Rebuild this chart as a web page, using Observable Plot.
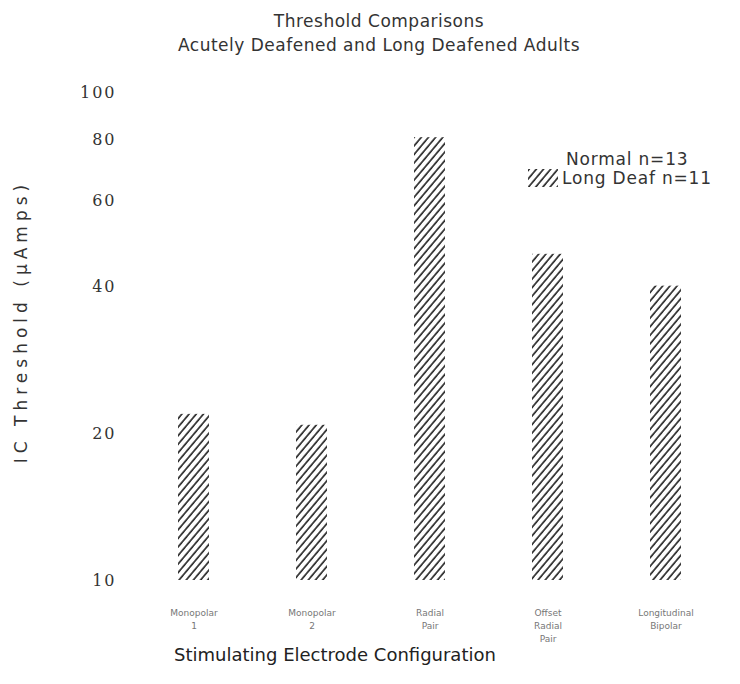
<!DOCTYPE html>
<html><head><meta charset="utf-8">
<script src="https://cdn.jsdelivr.net/npm/d3@7"></script>
<script src="https://cdn.jsdelivr.net/npm/@observablehq/plot@0.6"></script>
<style>
body{margin:0;background:#fff;font-family:"DejaVu Sans",sans-serif;}
#wrap{position:relative;width:740px;height:684px;overflow:hidden;}
#title{width:758px;height:56px;padding-top:9px;box-sizing:border-box;text-align:center;font-size:17px;line-height:24px;color:#333;letter-spacing:0.5px;}
#caption{position:absolute;left:0;top:635px;width:670px;text-align:center;font-size:18px;line-height:40px;color:#222;}
#legend{position:absolute;left:528px;top:149px;font-size:17px;color:#333;letter-spacing:0.8px;}
.row{display:flex;align-items:center;height:19px;}
.row svg{margin-right:4px;}
</style>
</head><body>
<div id="wrap">
  <div id="title">Threshold Comparisons<br>Acutely Deafened and Long Deafened Adults</div>
  <div id="chart"></div>
  <div id="caption">Stimulating Electrode Configuration</div>
  <div id="legend"></div>
</div>
<script>
const categories = ["Monopolar\n1", "Monopolar\n2", "Radial\nPair", "Offset\nRadial\nPair", "Longitudinal\nBipolar"];
const longDeaf = [21.9, 20.8, 80.8, 46.6, 40.1];
const seriesNames = ["Normal n=13", "Long Deaf n=11"];
const yTicks = [10, 20, 40, 60, 80, 100];
const yLabel = "IC Threshold (µAmps)";

const data = categories.map((c, i) => ({category: c, value: longDeaf[i]}));

const chart = Plot.plot({
  width: 740,
  height: 628,
  marginTop: 36,
  marginBottom: 104,
  marginLeft: 132,
  marginRight: 14,
  style: {fontFamily: "DejaVu Sans, sans-serif", background: "#fff"},
  x: {domain: categories, paddingInner: 0.74, paddingOuter: 0.37, label: null},
  y: {type: "log", domain: [10, 100]},
  marks: [
    Plot.axisY({ticks: yTicks, tickFormat: d => String(d), tickSize: 0, tickPadding: 16,
      fontSize: 16, fontFamily: "DejaVu Serif, serif", fill: "#333", label: null}),
    Plot.axisY({ticks: [], tickSize: 0, fill: "#333",
      label: yLabel, labelAnchor: "center", labelArrow: "none", labelOffset: 118}),
    Plot.axisX({tickSize: 0, tickPadding: 26, fontSize: 9, fill: "#777", lineHeight: 1.45, label: null}),
    Plot.rectY(data, {x: "category", y1: 10, y2: "value", fill: "url(#hatch)"})
  ]
});

// restyle tick labels and y label to match the reference's wide lettering
d3.select(chart).selectAll('[aria-label="y-axis tick label"] text').style("letter-spacing", "2px");
d3.select(chart).selectAll('[aria-label="y-axis label"]').each(function() {
  const g = d3.select(this);
  const t = g.attr("transform") || "";
  g.attr("transform", "translate(0,-15) " + t);
});
d3.select(chart).selectAll('[aria-label="y-axis label"] text')
  .style("font-size", "17px").style("letter-spacing", "5px").style("font-family", "DejaVu Sans, sans-serif");

// hatch pattern
const ns = "http://www.w3.org/2000/svg";
function addPattern(svg) {
  const defs = document.createElementNS(ns, "defs");
  const pat = document.createElementNS(ns, "pattern");
  pat.setAttribute("id", "hatch");
  pat.setAttribute("patternUnits", "userSpaceOnUse");
  pat.setAttribute("width", "5.5");
  pat.setAttribute("height", "5.5");
  pat.setAttribute("patternTransform", "rotate(40)");
  const bg = document.createElementNS(ns, "rect");
  bg.setAttribute("width", "5.5"); bg.setAttribute("height", "5.5"); bg.setAttribute("fill", "#fff");
  const line = document.createElementNS(ns, "line");
  line.setAttribute("x1", "1"); line.setAttribute("y1", "0");
  line.setAttribute("x2", "1"); line.setAttribute("y2", "5.5");
  line.setAttribute("stroke", "#111"); line.setAttribute("stroke-width", "1.5");
  pat.appendChild(bg); pat.appendChild(line); defs.appendChild(pat);
  svg.insertBefore(defs, svg.firstChild);
}
addPattern(chart);
document.getElementById("chart").appendChild(chart);

// legend
const legend = document.getElementById("legend");
seriesNames.forEach((name, i) => {
  const row = document.createElement("div");
  row.className = "row";
  const sw = document.createElementNS(ns, "svg");
  sw.setAttribute("width", "30"); sw.setAttribute("height", "18");
  const r = document.createElementNS(ns, "rect");
  r.setAttribute("width", "30"); r.setAttribute("height", "18");
  r.setAttribute("fill", i === 1 ? "url(#hatch)" : "#fff");
  sw.appendChild(r);
  row.appendChild(sw);
  const t = document.createElement("span");
  t.textContent = name;
  if (i === 0) t.style.marginLeft = "4px";
  row.appendChild(t);
  legend.appendChild(row);
});
</script>
</body></html>
